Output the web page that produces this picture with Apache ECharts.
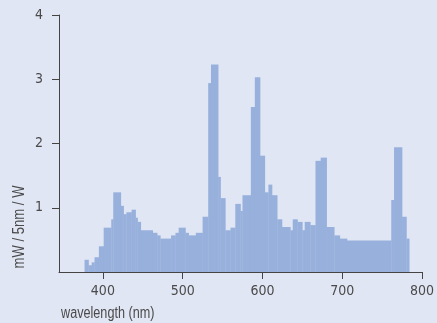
<!DOCTYPE html>
<html>
<head>
<meta charset="utf-8">
<script src="https://cdn.jsdelivr.net/npm/echarts@6/dist/echarts.min.js"></script>
<style>
  html, body { margin: 0; padding: 0; background: #e0e6f4; }
  #chart { width: 437px; height: 323px; }
</style>
</head>
<body>
<div id="chart"></div>
<script>
// ===== datos: distribución espectral (bins de longitud de onda) =====
// bordes de cada bin en nm (uno más que los valores)
const binEdges = [377, 382, 386, 389.5, 395, 401, 410.5, 413, 422.5, 426, 429.5, 436, 441, 443.5, 447.5,
  462.5, 468, 472, 485.5, 491, 495, 503.5, 507.5, 516.5, 525, 532, 535.5, 544.5, 547.5, 553.5,
  560, 566, 572.5, 575, 585.5, 590.5, 597, 603, 607.5, 612, 618.5, 624.5, 635, 638, 644,
  650, 653, 660, 666.5, 673, 680.5, 690, 697, 706, 761.5, 765, 775, 780.5, 784];
// mW / 5nm / W
const power = [0.19, 0.105, 0.15, 0.23, 0.40, 0.69, 0.82, 1.24, 1.03, 0.90, 0.93, 0.97, 0.845, 0.78, 0.65,
  0.61, 0.57, 0.52, 0.57, 0.61, 0.69, 0.61, 0.57, 0.61, 0.86, 2.94, 3.23, 1.48, 1.15, 0.65,
  0.69, 1.06, 0.95, 1.195, 2.57, 3.03, 1.81, 1.24, 1.36, 1.195, 0.82, 0.70, 0.65, 0.82, 0.78,
  0.65, 0.78, 0.73, 1.73, 1.78, 0.70, 0.57, 0.52, 0.49, 1.12, 1.94, 0.86, 0.52];
const xTicks = [400, 500, 600, 700, 800];
const yTicks = [1, 2, 3, 4];

const FONT = "'DejaVu Sans Condensed', 'Liberation Sans Narrow', sans-serif";
const NAME_FONT = "16px 'Liberation Sans', Arial, sans-serif";
const TXT = '#4a4a4a';
const AX = '#444';
const BAR = '#97b0dc';

const bins = power.map((v, i) => [binEdges[i], binEdges[i + 1], v]);

const chart = echarts.init(document.getElementById('chart'), null, { renderer: 'canvas' });
chart.setOption({
  backgroundColor: '#e0e6f4',
  animation: false,
  grid: { left: 59, right: 10, top: 15, bottom: 51 },
  xAxis: {
    type: 'value', min: 345, max: 800,
    axisLine: { show: true, lineStyle: { color: AX, width: 1 } },
    axisTick: { show: true, length: 7, customValues: xTicks, lineStyle: { color: AX } },
    axisLabel: { customValues: xTicks, margin: 12, color: TXT, fontSize: 14, fontFamily: FONT },
    splitLine: { show: false },
  },
  yAxis: {
    type: 'value', min: 0, max: 4, interval: 1,
    axisLine: { show: true, lineStyle: { color: AX, width: 1 } },
    axisTick: { show: true, length: 7, customValues: yTicks, lineStyle: { color: AX } },
    axisLabel: { customValues: yTicks, margin: 16, color: TXT, fontSize: 14, fontFamily: FONT },
    splitLine: { show: false },
  },
  // nombres de ejes: texto estrecho (escala horizontal)
  graphic: [
    { type: 'text', x: 61, y: 314, scaleX: 0.79,
      style: { text: 'wavelength (nm)', fill: TXT, font: NAME_FONT, textVerticalAlign: 'middle' } },
    { type: 'text', x: 20, y: 227, rotation: Math.PI / 2, scaleX: 0.82,
      style: { text: 'mW / 5nm / W', fill: TXT, font: NAME_FONT, textAlign: 'center', textVerticalAlign: 'middle' } },
  ],
  series: [{
    type: 'custom',
    data: bins,
    encode: { x: [0, 1], y: 2 },
    renderItem: (params, api) => {
      const p0 = api.coord([api.value(0), 0]);
      const p1 = api.coord([api.value(1), api.value(2)]);
      return {
        type: 'rect',
        shape: { x: p0[0], y: p1[1], width: p1[0] - p0[0] + 0.3, height: p0[1] - p1[1] },
        style: { fill: BAR },
      };
    },
  }],
});
</script>
</body>
</html>
